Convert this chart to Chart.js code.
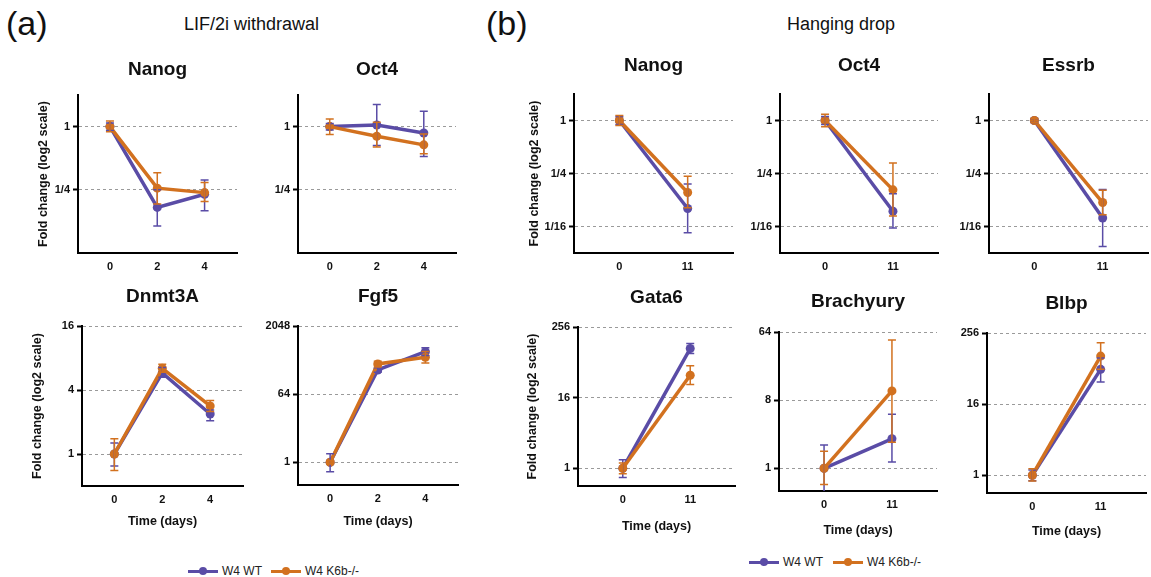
<!DOCTYPE html>
<html><head><meta charset="utf-8">
<script src="https://cdn.jsdelivr.net/npm/chart.js@4"></script>
<style>
body{margin:0;background:#fff;width:1151px;height:577px;overflow:hidden;position:relative;font-family:"Liberation Sans",Arial,sans-serif;}
canvas{position:absolute;}
.hdr{position:absolute;color:#111;white-space:nowrap;line-height:1;}
.leg{position:absolute;font-size:12px;color:#222;display:flex;align-items:center;white-space:nowrap;height:14px;}
.sw{display:inline-block;position:relative;width:30px;height:3px;margin-right:4px;}
.sw i{position:absolute;left:11px;top:-2.5px;width:8px;height:8px;border-radius:50%;}
</style></head><body>
<div class="hdr" style="left:6px;top:6px;font-size:34px">(a)</div>
<div class="hdr" style="left:184px;top:15px;font-size:18px">LIF/2i withdrawal</div>
<div class="hdr" style="left:486px;top:6px;font-size:34px">(b)</div>
<div class="hdr" style="left:787px;top:15px;font-size:18px">Hanging drop</div>
<div class="leg" style="left:188px;top:564px"><span class="sw" style="background:#5a4ca6"><i style="background:#5a4ca6"></i></span>W4 WT<span class="sw" style="background:#d2711f;margin-left:9px"><i style="background:#d2711f"></i></span>W4 K6b-/-</div>
<div class="leg" style="left:749px;top:555px"><span class="sw" style="background:#5a4ca6"><i style="background:#5a4ca6"></i></span>W4 WT<span class="sw" style="background:#d2711f;margin-left:10px"><i style="background:#d2711f"></i></span>W4 K6b-/-</div>
<script>
// ---------- categories ----------
const daysA = [0, 2, 4];
const daysB = [0, 11];

// ---------- tick values / labels ----------
const ticksTopA = [1/4, 1];        const labelsTopA = ['1/4', '1'];
const ticksDnmt3A = [1, 4, 16];    const labelsDnmt3A = ['1', '4', '16'];
const ticksFgf5 = [1, 64, 4096];   const labelsFgf5 = ['1', '64', '2048'];
const ticksTopB = [1/16, 1/4, 1];  const labelsTopB = ['1/16', '1/4', '1'];
const ticksGata6 = [1, 16, 256];   const labelsGata6 = ['1', '16', '256'];
const ticksBrachy = [1, 8, 64];    const labelsBrachy = ['1', '8', '64'];
const ticksBlbp = [1, 16, 256];    const labelsBlbp = ['1', '16', '256'];

// ---------- (a) LIF/2i withdrawal: fold change, lower and upper error ----------
const nanogA_wt = [1.00, 0.170, 0.227], nanogA_wtLo = [0.92, 0.113, 0.158], nanogA_wtHi = [1.08, 0.250, 0.310];
const nanogA_ko = [1.00, 0.259, 0.235], nanogA_koLo = [0.895, 0.183, 0.193], nanogA_koHi = [1.13, 0.363, 0.293];

const oct4A_wt = [1.00, 1.035, 0.87], oct4A_wtLo = [0.93, 0.66, 0.52], oct4A_wtHi = [1.07, 1.62, 1.40];
const oct4A_ko = [1.00, 0.81, 0.67],  oct4A_koLo = [0.84, 0.64, 0.55], oct4A_koHi = [1.18, 1.10, 0.85];

const dnmt3A_wt = [1.00, 5.8, 2.38], dnmt3A_wtLo = [0.77, 5.28, 2.06], dnmt3A_wtHi = [1.27, 6.5, 2.6];
const dnmt3A_ko = [1.00, 6.4, 2.83], dnmt3A_koLo = [0.70, 5.86, 2.51], dnmt3A_koHi = [1.39, 7.0, 3.18];

const fgf5_wt = [1.00, 280, 855], fgf5_wtLo = [0.56, 245, 675], fgf5_wtHi = [1.69, 320, 1090];
const fgf5_ko = [1.00, 404, 608], fgf5_koLo = [0.90, 338, 430], fgf5_koHi = [1.11, 478, 861];

// ---------- (b) Hanging drop ----------
const nanogB_wt = [1.00, 0.100], nanogB_wtLo = [0.90, 0.053], nanogB_wtHi = [1.11, 0.19];
const nanogB_ko = [1.00, 0.152], nanogB_koLo = [0.877, 0.102], nanogB_koHi = [1.14, 0.233];

const oct4B_wt = [1.00, 0.093], oct4B_wtLo = [0.90, 0.060], oct4B_wtHi = [1.11, 0.147];
const oct4B_ko = [1.00, 0.163], oct4B_koLo = [0.85, 0.082], oct4B_koHi = [1.18, 0.33];

const essrb_wt = [1.00, 0.078], essrb_wtLo = [0.95, 0.037], essrb_wtHi = [1.05, 0.165];
const essrb_ko = [1.00, 0.117], essrb_koLo = [0.95, 0.085], essrb_koHi = [1.05, 0.161];

const gata6_wt = [1.00, 110], gata6_wtLo = [0.70, 90.5], gata6_wtHi = [1.40, 134];
const gata6_ko = [1.00, 38.6], gata6_koLo = [0.81, 26.9], gata6_koHi = [1.23, 55.7];

const brachy_wt = [1.00, 2.46], brachy_wtLo = [0.45, 1.21], brachy_wtHi = [2.04, 5.2];
const brachy_ko = [1.00, 10.6], brachy_koLo = [0.61, 2.22], brachy_koHi = [1.68, 50.2];

const blbp_wt = [1.00, 62], blbp_wtLo = [0.81, 38], blbp_wtHi = [1.23, 97];
const blbp_ko = [1.00, 104], blbp_koLo = [0.80, 62], blbp_koHi = [1.29, 175];

const WT_COLOR = '#5a4ca6', KO_COLOR = '#d2711f';
Chart.defaults.font.family = "'Liberation Sans', Arial, Helvetica, sans-serif";
Chart.defaults.color = '#111';

const errorBars = {
  id: 'errorBars',
  afterDatasetsDraw(chart) {
    const {ctx, chartArea, scales: {x, y}} = chart;
    ctx.save();
    ctx.beginPath();
    ctx.rect(chartArea.left, chartArea.top - 1, chartArea.right - chartArea.left, chartArea.bottom - chartArea.top + 1);
    ctx.clip();
    chart.data.datasets.forEach(ds => {
      ctx.strokeStyle = ds.borderColor;
      ctx.lineWidth = 1.5;
      ds.data.forEach((p, i) => {
        const px = x.getPixelForValue(p.x);
        const y1 = y.getPixelForValue(ds.lo[i]);
        const y2 = y.getPixelForValue(ds.hi[i]);
        ctx.beginPath();
        ctx.moveTo(px, y1); ctx.lineTo(px, y2);
        ctx.moveTo(px - 4, y1); ctx.lineTo(px + 4, y1);
        ctx.moveTo(px - 4, y2); ctx.lineTo(px + 4, y2);
        ctx.stroke();
      });
    });
    ctx.restore();
  }
};

const XA = [-1.35, 5.37], XB = [-7.3, 18.3];
const panels = [
  {title:'Nanog', x:daysA, xr:XA, yr:[1/16, 2], yTicks:ticksTopA, yLabels:labelsTopA,
   wt:nanogA_wt, wtLo:nanogA_wtLo, wtHi:nanogA_wtHi, ko:nanogA_ko, koLo:nanogA_koLo, koHi:nanogA_koHi,
   L:78, T:95, R:237, B:253, titleY:70, yTitleX:44},
  {title:'Oct4', x:daysA, xr:XA, yr:[1/16, 2], yTicks:ticksTopA, yLabels:labelsTopA,
   wt:oct4A_wt, wtLo:oct4A_wtLo, wtHi:oct4A_wtHi, ko:oct4A_ko, koLo:oct4A_koLo, koHi:oct4A_koHi,
   L:298, T:95, R:456, B:253, titleY:70},
  {title:'Dnmt3A', x:daysA, xr:XA, yr:[0.5, 16], yTicks:ticksDnmt3A, yLabels:labelsDnmt3A,
   wt:dnmt3A_wt, wtLo:dnmt3A_wtLo, wtHi:dnmt3A_wtHi, ko:dnmt3A_ko, koLo:dnmt3A_koLo, koHi:dnmt3A_koHi,
   L:82, T:326, R:243, B:486, titleY:297, yTitleX:38, xTitleY:522},
  {title:'Fgf5', x:daysA, xr:XA, yr:[0.25, 4096], yTicks:ticksFgf5, yLabels:labelsFgf5,
   wt:fgf5_wt, wtLo:fgf5_wtLo, wtHi:fgf5_wtHi, ko:fgf5_ko, koLo:fgf5_koLo, koHi:fgf5_koHi,
   L:298, T:326, R:458, B:485, titleY:297, xTitleY:522},
  {title:'Nanog', x:daysB, xr:XB, yr:[1/32, 2], yTicks:ticksTopB, yLabels:labelsTopB,
   wt:nanogB_wt, wtLo:nanogB_wtLo, wtHi:nanogB_wtHi, ko:nanogB_ko, koLo:nanogB_koLo, koHi:nanogB_koHi,
   L:574, T:94, R:733, B:253, titleY:66, yTitleX:535},
  {title:'Oct4', x:daysB, xr:XB, yr:[1/32, 2], yTicks:ticksTopB, yLabels:labelsTopB,
   wt:oct4B_wt, wtLo:oct4B_wtLo, wtHi:oct4B_wtHi, ko:oct4B_ko, koLo:oct4B_koLo, koHi:oct4B_koHi,
   L:780, T:94, R:938, B:253, titleY:66},
  {title:'Essrb', x:daysB, xr:XB, yr:[1/32, 2], yTicks:ticksTopB, yLabels:labelsTopB,
   wt:essrb_wt, wtLo:essrb_wtLo, wtHi:essrb_wtHi, ko:essrb_ko, koLo:essrb_koLo, koHi:essrb_koHi,
   L:989, T:94, R:1148, B:253, titleY:66},
  {title:'Gata6', x:daysB, xr:XB, yr:[0.5, 256], yTicks:ticksGata6, yLabels:labelsGata6,
   wt:gata6_wt, wtLo:gata6_wtLo, wtHi:gata6_wtHi, ko:gata6_ko, koLo:gata6_koLo, koHi:gata6_koHi,
   L:578, T:327, R:735, B:486, titleY:298, yTitleX:533, xTitleY:527},
  {title:'Brachyury', x:daysB, xr:XB, yr:[0.5, 64], yTicks:ticksBrachy, yLabels:labelsBrachy,
   wt:brachy_wt, wtLo:brachy_wtLo, wtHi:brachy_wtHi, ko:brachy_ko, koLo:brachy_koLo, koHi:brachy_koHi,
   L:779, T:332, R:937, B:491, titleY:302, xTitleY:531},
  {title:'Blbp', x:daysB, xr:XB, yr:[0.5, 256], yTicks:ticksBlbp, yLabels:labelsBlbp,
   wt:blbp_wt, wtLo:blbp_wtLo, wtHi:blbp_wtHi, ko:blbp_ko, koLo:blbp_koLo, koHi:blbp_koHi,
   L:987, T:333, R:1146, B:493, titleY:304, xTitleY:532}
];

function buildPanel(p) {
  const YW = 60, PR = 6, PT = 4, LH = 20;
  const XH = p.xTitleY ? 50 : 30;
  const gap = p.T - p.titleY - 10;
  const TH = PT + LH + gap;
  const left = p.L - YW, top = p.T - TH;
  const width = p.R - p.L + YW + PR, height = p.B - p.T + TH + XH;
  const cv = document.createElement('canvas');
  cv.width = width; cv.height = height;
  cv.style.left = left + 'px'; cv.style.top = top + 'px';
  cv.style.width = width + 'px'; cv.style.height = height + 'px';
  document.body.appendChild(cv);
  new Chart(cv, {
    type: 'line',
    data: {datasets: [
      {label:'W4 WT', data:p.x.map((d, i) => ({x:d, y:p.wt[i]})), lo:p.wtLo, hi:p.wtHi,
       borderColor:WT_COLOR, backgroundColor:WT_COLOR, pointBackgroundColor:WT_COLOR, order:1},
      {label:'W4 K6b-/-', data:p.x.map((d, i) => ({x:d, y:p.ko[i]})), lo:p.koLo, hi:p.koHi,
       borderColor:KO_COLOR, backgroundColor:KO_COLOR, pointBackgroundColor:KO_COLOR, order:0}
    ]},
    options: {
      responsive:false, animation:false, devicePixelRatio:1,
      layout:{padding:{left:0, right:PR, top:0, bottom:0}},
      elements:{line:{borderWidth:3.5, tension:0}, point:{radius:4.5, borderWidth:0, hoverRadius:4.5}},
      plugins:{
        legend:{display:false}, tooltip:{enabled:false},
        title:{display:true, text:p.title, fullSize:false, color:'#111',
               font:{size:19, weight:'bold', lineHeight:'20px'}, padding:{top:PT, bottom:gap}}
      },
      scales:{
        x:{type:'linear', min:p.xr[0], max:p.xr[1], bounds:'data',
           afterBuildTicks:s => { s.ticks = p.x.map(v => ({value:v})); },
           afterFit:s => { s.height = XH; },
           grid:{display:false, drawTicks:false},
           border:{display:true, color:'#000', width:2},
           ticks:{font:{size:11, weight:'bold'}, padding:7, autoSkip:false, maxRotation:0, color:'#111', callback:v => String(v)},
           title:p.xTitleY ? {display:true, text:'Time (days)', color:'#111', font:{size:12.5, weight:'bold', lineHeight:1.2},
                  padding:{top:0, bottom:p.B + XH - p.xTitleY - 7.5}} : {display:false}
        },
        y:{type:'logarithmic', min:p.yr[0], max:p.yr[1], bounds:'data',
           afterBuildTicks:s => { s.ticks = p.yTicks.map(v => ({value:v})); },
           afterFit:s => { s.width = YW; },
           grid:{color:'#9a9a9a', lineWidth:1, drawTicks:true, tickLength:5, tickColor:'#000', tickWidth:2, tickBorderDash:[]},
           border:{display:true, color:'#000', width:2, dash:[3,3]},
           ticks:{font:{size:11, weight:'bold'}, padding:3, autoSkip:false, color:'#111', callback:(v, i) => p.yLabels[i]},
           title:p.yTitleX ? {display:true, text:'Fold change (log2 scale)', color:'#111', font:{size:12.5, weight:'bold', lineHeight:1.2},
                  padding:{top:p.yTitleX - left - 7.5, bottom:0}} : {display:false}
        }
      }
    },
    plugins:[errorBars]
  });
}
panels.forEach(buildPanel);
</script>
</body></html>
